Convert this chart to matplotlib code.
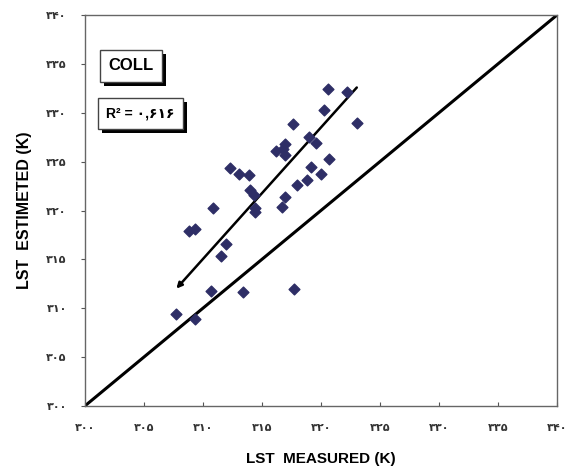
import numpy as np
import matplotlib
matplotlib.use("Agg")
import matplotlib.pyplot as plt
from matplotlib import patheffects as pe

# values (K)
measured = [320.6, 322.2, 320.3, 317.6, 323.1, 319.0, 319.6, 317.0, 316.2, 316.8,
            317.0, 320.7, 312.3, 313.1, 313.9, 319.2, 320.0, 318.8, 318.0, 314.0,
            314.3, 317.0, 316.7, 310.9, 314.4, 314.4, 308.8, 309.3, 312.0, 311.5,
            310.7, 313.4, 317.7, 307.7, 309.3]
estimated = [332.4, 332.1, 330.3, 328.9, 329.0, 327.5, 326.9, 326.8, 326.1, 326.3,
             325.7, 325.3, 324.4, 323.7, 323.6, 324.5, 323.7, 323.1, 322.6, 322.1,
             321.6, 321.4, 320.4, 320.3, 320.3, 319.8, 317.9, 318.1, 316.6, 315.3,
             311.8, 311.7, 312.0, 309.4, 308.9]

# fitted line end points, arrow tip at the low end
fit_x = [323.2, 307.6]
fit_y = [332.8, 311.8]

ticks = [300, 305, 310, 315, 320, 325, 330, 335, 340]
tick_labels = ['۳۰۰', '۳۰۵', '۳۱۰', '۳۱۵', '۳۲۰', '۳۲۵', '۳۳۰', '۳۳۵', '۳۴۰']

fig = plt.figure(figsize=(5.73, 4.71), dpi=100)
ax = fig.add_axes([0.148, 0.138, 0.824, 0.830])

ax.plot([300, 340], [300, 340], color='black', lw=2.2)
ax.annotate('', xy=(fit_x[1], fit_y[1]), xytext=(fit_x[0], fit_y[0]),
            arrowprops=dict(arrowstyle='-|>', color='black', lw=1.8,
                            mutation_scale=8))
ax.scatter(measured, estimated, marker='D', s=30, color='#2e2e66', zorder=3)

ax.set_xlim(300, 340)
ax.set_ylim(300, 340)
ax.set_xticks(ticks)
ax.set_yticks(ticks)
ax.set_xticklabels(tick_labels, family=['DejaVu Sans'], fontsize=8, fontweight='bold',
                   color='#333333')
ax.set_yticklabels(tick_labels, family=['DejaVu Sans'], fontsize=8, fontweight='bold',
                   color='#333333')
ax.tick_params(axis='x', direction='in', length=3, pad=12, color='#555555')
ax.tick_params(axis='y', direction='out', length=3, pad=10, color='#555555')
for s in ax.spines.values():
    s.set_color('#666666')
    s.set_linewidth(1.0)

lab_font = ['Liberation Sans Narrow', 'Liberation Sans', 'DejaVu Sans']
ax.set_xlabel('LST  MEASURED (K)', family=lab_font, fontsize=11,
              fontweight='bold', labelpad=14)
ax.set_ylabel('LST  ESTIMETED (K)', family=lab_font, fontsize=11.5,
              fontweight='bold', labelpad=10)

shadow = [pe.SimplePatchShadow(offset=(3, -3), shadow_rgbFace='black', alpha=1.0),
          pe.Normal()]
t1 = ax.text(303.9, 334.8, 'COLL', family=lab_font, fontsize=12, fontweight='bold',
             ha='center', va='center',
             bbox=dict(boxstyle='square,pad=0.5', fc='white', ec='#444444', lw=1))
t2 = ax.text(304.7, 329.95, 'R² = ۰,۶۱۶', family=['Liberation Sans', 'DejaVu Sans'],
             fontsize=10, fontweight='bold', ha='center', va='center',
             bbox=dict(boxstyle='square,pad=0.6', fc='white', ec='#444444', lw=1))
for t in (t1, t2):
    t.get_bbox_patch().set_path_effects(shadow)

fig.savefig('out.png', dpi=100)
